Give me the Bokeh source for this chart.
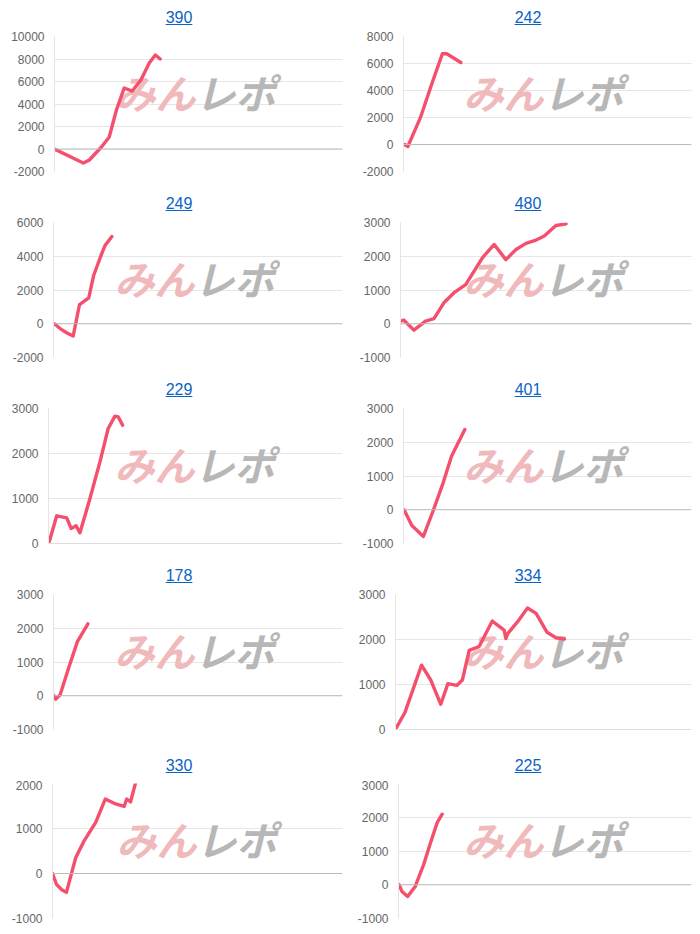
from bokeh.plotting import figure
from bokeh.layouts import column, row
from bokeh.models import Range1d, FixedTicker, Label, Span, Div
from bokeh.embed import file_html
from bokeh.resources import INLINE

# ---- data (x: position along the play axis, 0..100; y: balance) ----
titles = ["390", "242", "249", "480", "229", "401", "178", "334", "330", "225"]

x390 = [0, 10, 12.1, 16.3, 19, 21.5, 24.2, 27, 30, 32.9, 35, 36.7]
y390 = [0, -1250, -980, 180, 1070, 3470, 5420, 5150, 6130, 7640, 8360, 8000]

x242 = [0.4, 1.5, 5.8, 9.9, 13.5, 15, 19.9]
y242 = [0, -150, 1950, 4540, 6720, 6720, 6070]

x249 = [0.3, 2.4, 4.7, 6.8, 9, 12.2, 13.9, 16.2, 17.8, 20.2]
y249 = [0, -300, -550, -730, 1140, 1540, 2860, 3940, 4630, 5170]

x480 = [0, 1.1, 4.6, 8.6, 11.5, 14.9, 18.4, 22.4, 28.2, 32.2, 36.2, 39.7, 43.1, 46.6, 49.4, 53.4, 56.9]
y480 = [80, 110, -190, 80, 150, 620, 920, 1160, 1960, 2350, 1900, 2200, 2380, 2480, 2600, 2910, 2960]

x229 = [0.3, 2.8, 6.2, 7.7, 9.4, 10.7, 14.1, 17.5, 20.3, 22.6, 23.7, 25.2]
y229 = [50, 615, 570, 333, 393, 237, 1000, 1815, 2555, 2830, 2815, 2630]

x401 = [0.2, 2.9, 6.9, 10.3, 13.8, 16.7, 21.3]
y401 = [0, -470, -790, -30, 805, 1590, 2380]

x178 = [0.2, 0.8, 2.3, 5.4, 8.3, 11.9]
y178 = [0, -100, 30, 870, 1610, 2130]

x334 = [0.3, 3.2, 8.8, 11.9, 15.3, 17.7, 20.7, 22.6, 24.9, 28.2, 32.7, 36.7, 37.3, 37.9,
        41.2, 44.6, 47.5, 51.2, 54.2, 57.1]
y334 = [40, 380, 1430, 1100, 560, 1020, 980, 1100, 1760, 1840, 2410, 2210, 2020, 2130,
        2390, 2700, 2580, 2160, 2040, 2010]

x330 = [0, 1.4, 3.2, 4.8, 8, 10.9, 14.9, 18.2, 21.8, 24.7, 25.6, 26.9, 28.7]
y330 = [0, -245, -360, -420, 350, 725, 1135, 1655, 1545, 1490, 1655, 1590, 2030]

x225 = [0.2, 1.2, 3.1, 5.7, 8.6, 10.9, 13.2, 14.9]
y225 = [0, -200, -350, -50, 600, 1240, 1840, 2090]

series_x = [x390, x242, x249, x480, x229, x401, x178, x334, x330, x225]
series_y = [y390, y242, y249, y480, y229, y401, y178, y334, y330, y225]

y_lo = [-2000, -2000, -2000, -1000, 0, -1000, -1000, 0, -1000, -1000]
y_hi = [10000, 8000, 6000, 3000, 3000, 3000, 3000, 3000, 2000, 3000]
y_step = [2000, 2000, 2000, 1000, 1000, 1000, 1000, 1000, 1000, 1000]

# ---- layout / style ----
LINE = "#f4506e"
CELL_W = 342
border_left = [45, 53, 45, 50, 40, 53, 45, 45, 42, 48]
border_right = [8, 1]
row_div_h = [20, 20, 20, 20, 28]
row_fig_h = [166, 166, 166, 166, 146]
row_top = [8, 8, 8, 8, 3]
wm_x = [106, 113]
wm_y = 80

cells = []
for i, t in enumerate(titles):
    r, c = divmod(i, 2)
    pad = 0 if c == 0 else 14
    div = Div(
        text=(f'<div style="width:{CELL_W}px;text-align:center;line-height:{row_div_h[r]}px;'
              f'padding-left:{pad}px;box-sizing:border-box;">'
              f'<a href="#" style="color:#0b63c5;text-decoration:underline;'
              f'font-family:\'Liberation Sans\',Arial,sans-serif;font-size:16px;">{t}</a></div>'),
        width=CELL_W, height=row_div_h[r], margin=0)

    ticks = list(range(y_lo[i], y_hi[i] + 1, y_step[i]))
    p = figure(width=CELL_W, height=row_fig_h[r], output_backend="svg", toolbar_location=None,
               x_range=Range1d(0, 100), y_range=Range1d(y_lo[i], y_hi[i]),
               min_border_left=border_left[i], min_border_right=border_right[c],
               min_border_top=row_top[r], min_border_bottom=row_fig_h[r] - row_top[r] - 135,
               background_fill_color="white", border_fill_color="white")
    p.outline_line_color = None
    p.xaxis.visible = False
    p.xgrid.visible = False
    p.yaxis.ticker = FixedTicker(ticks=ticks)
    p.yaxis.major_label_overrides = {v: str(v) for v in ticks}
    p.yaxis.major_tick_line_color = None
    p.yaxis.major_tick_out = 0
    p.yaxis.major_tick_in = 0
    p.yaxis.minor_tick_line_color = None
    p.yaxis.minor_tick_out = 0
    p.yaxis.minor_tick_in = 0
    p.yaxis.axis_line_color = "#e4e4e4"
    p.yaxis.major_label_standoff = 10
    p.yaxis.major_label_text_font = "Liberation Sans"
    p.yaxis.major_label_text_font_size = "12px"
    p.yaxis.major_label_text_color = "#666666"
    p.ygrid.grid_line_color = "#e6e6e6"
    p.ygrid.grid_line_width = 1

    p.add_layout(Span(location=0, dimension="width", line_color="#bcbcbc", line_width=1))

    wx = wm_x[c] - border_left[i]
    p.add_layout(Label(x=wx, y=wm_y, x_units="screen", y_units="screen", text="みん",
                       text_font="Noto Sans CJK JP", text_font_size="40px",
                       text_font_style="bold italic", text_color="#f0b9bb",
                       text_baseline="alphabetic", level="underlay"))
    p.add_layout(Label(x=wx + 80, y=wm_y, x_units="screen", y_units="screen", text="レポ",
                       text_font="Noto Sans CJK JP", text_font_size="40px",
                       text_font_style="bold italic", text_color="#b7b7b7",
                       text_baseline="alphabetic", level="underlay"))

    p.line(series_x[i], series_y[i], line_color=LINE, line_width=3.4, line_join="round",
           line_cap="round")
    cells.append(column(div, p, spacing=0))

rows = [row(cells[2 * k], cells[2 * k + 1], spacing=0) for k in range(5)]
layout = column(*rows, spacing=0, margin=(8, 0, 0, 8))

open("out.html", "w").write(file_html(layout, INLINE))
